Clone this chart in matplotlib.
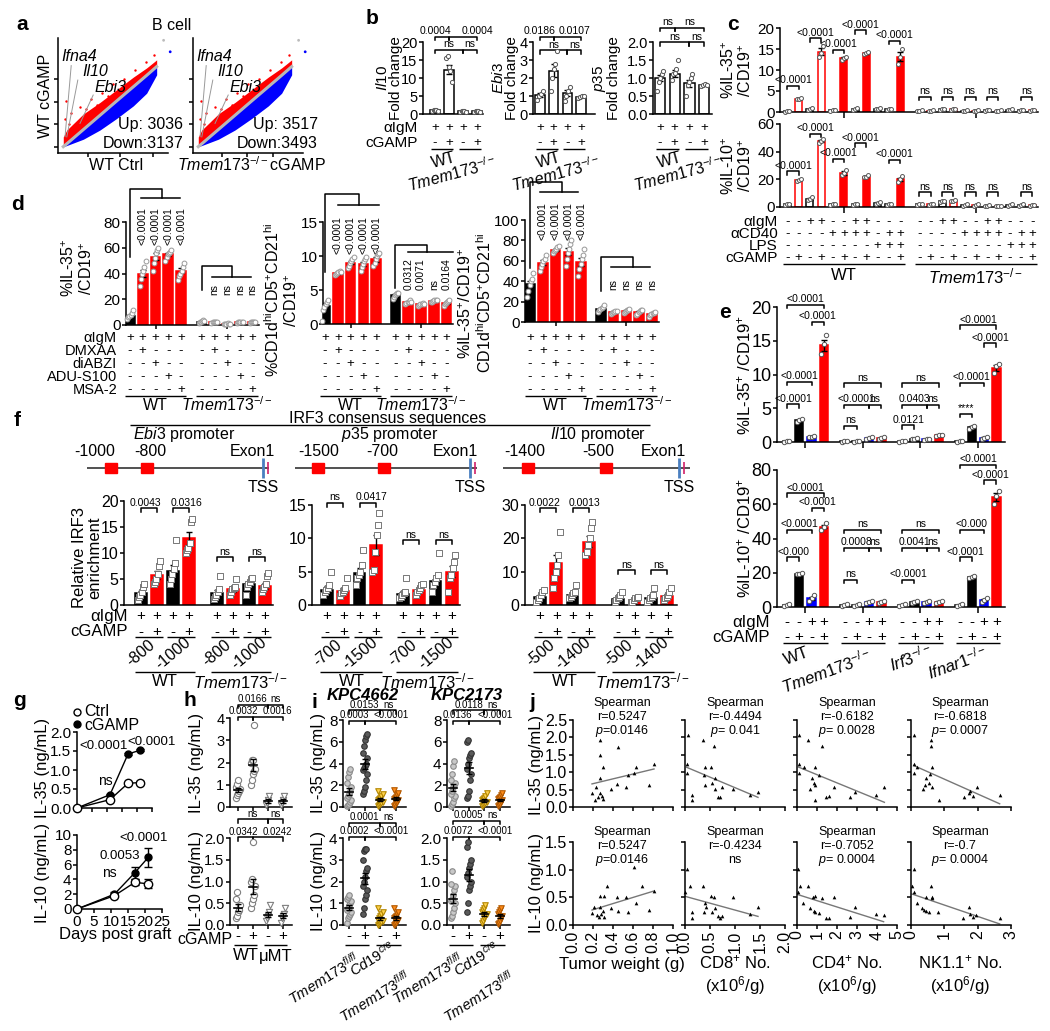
import numpy as np
import matplotlib
matplotlib.use("Agg")
import matplotlib.pyplot as plt

plt.rcParams["font.family"] = ["Liberation Sans", "DejaVu Sans"]
plt.rcParams["mathtext.fontset"] = "custom"
plt.rcParams["mathtext.rm"] = "Liberation Sans"
plt.rcParams["mathtext.it"] = "Liberation Sans:italic"
plt.rcParams["mathtext.bf"] = "Liberation Sans:bold"
plt.rcParams["axes.linewidth"] = 1.1

W, H = 1050, 1031
RED, BLUE = "#ff0000", "#0000ff"
TMEM = r"$\mathit{Tmem173}^{-/-}$"

# ---------------- data ----------------
# a: scatter cloud envelopes (axes fractions)
a_x = [0.048, 0.08, 0.231, 0.382, 0.533, 0.685, 0.806, 0.897]
a_up = [0.14, 0.2, 0.34, 0.44, 0.55, 0.66, 0.74, 0.81]
a_diag = [0.055, 0.08, 0.204, 0.328, 0.452, 0.576, 0.675, 0.751]
a_low = [0.055, 0.065, 0.12, 0.2, 0.3, 0.41, 0.52, 0.68]
a_out_x = [0.06, 0.07, 0.1, 0.12, 0.15, 0.2, 0.25, 0.3, 0.35, 0.4, 0.45, 0.5, 0.6, 0.7, 0.8, 0.87]
a_out_y = [0.3, 0.45, 0.25, 0.35, 0.22, 0.4, 0.38, 0.47, 0.42, 0.52, 0.5, 0.6, 0.64, 0.72, 0.79, 0.85]

# b
b_genes = ["Il10", "Ebi3", "p35"]
b_vals = [[1.0, 12.3, 0.7, 0.7], [1.05, 2.4, 1.15, 0.95], [1.0, 1.12, 0.85, 0.8]]
b_dots = [[[0.8, 1.0, 1.1, 1.2, 0.9], [15.5, 16.0, 13, 12, 9], [0.6, 0.7, 0.8, 0.7, 0.5], [0.6, 0.7, 0.8, 0.7, 0.6]],
          [[0.8, 1.0, 1.1, 1.3], [1.3, 2.0, 2.5, 2.8, 3.5], [0.7, 1.0, 1.3, 1.5], [0.9, 0.95, 1.0, 1.0]],
          [[0.65, 0.9, 1.0, 1.1, 1.2], [0.95, 1.1, 1.15, 1.25, 1.5], [0.5, 0.8, 0.9, 1.0, 1.1], [0.78, 0.8, 0.82, 0.8]]]
b_p = [["0.0004", "0.0004", "ns", "ns"], ["0.0186", "0.0107", "ns", "ns"], ["ns", "ns", "ns", "ns"]]

# c
c_top_wt = [0.2, 3.2, 0.7, 14.3, 0.4, 12.8, 0.7, 14.0, 0.8, 0.6, 13.2]
c_top_wt_dots = [[0.1, 0.2, 0.3], [3.0, 3.2, 3.4], [0.5, 0.7, 0.9], [13, 14, 15.8], [0.3, 0.4, 0.5], [12.5, 12.8, 13.2],
                 [0.5, 0.7, 0.9], [13.8, 14, 14.2], [0.7, 0.8, 0.9], [0.5, 0.6, 0.7], [11.5, 13.2, 15]]
c_top_ko = [0.3, 0.3, 0.6, 0.6, 0.3, 0.3, 0.4, 0.3, 0.5, 0.4, 0.4]
c_top_ko_dots = [[0.2, 0.3, 0.4], [0.2, 0.3, 0.4], [0.5, 0.6, 0.7], [0.5, 0.6, 0.7], [0.2, 0.3, 0.4], [0.2, 0.3, 0.4],
                 [0.3, 0.4, 0.5], [0.2, 0.3, 0.4], [0.4, 0.5, 0.6], [0.3, 0.4, 0.5], [0.3, 0.4, 0.5]]
c_bot_wt = [2, 19.5, 6, 47.5, 2, 24.5, 2, 22, 3, 2, 20]
c_bot_wt_dots = [[1.5, 2, 2.5], [19, 19.5, 20], [5, 6, 7.5], [46, 47.5, 49], [1.5, 2, 2.5], [23, 24.5, 27],
                 [1.5, 2, 2.5], [21.5, 22, 23], [2.5, 3, 3.5], [1.5, 2, 2.5], [18, 20, 22.5]]
c_bot_ko = [2, 2, 4, 4.5, 1.5, 1.5, 1, 0.8, 1.5, 1.5, 1.2]
c_bot_ko_dots = [[1.5, 2, 2.5], [1.5, 2, 2.5], [3.5, 4, 4.5], [4, 4.5, 5], [1, 1.5, 2], [1, 1.5, 2],
                 [0.8, 1, 1.2], [0.6, 0.8, 1], [1, 1.5, 2], [1, 1.5, 2], [1, 1.2, 1.4]]
c_igm = "--++--++---"
c_cd40 = "----++++-++"
c_lps = "--------+++"
c_cg = "-+-+-+-+--+"
c_pairs = [(0, 1), (2, 3), (4, 5), (6, 7), (9, 10)]
c_top_by = [6.2, 17.6, 14.8, 19.5, 17]
c_bot_by = [25.7, 53, 35, 46, 34]

# d
d_vals_wt = [[7, 40, 53, 55, 42], [2.7, 7.5, 9, 8.8, 9.5], [37, 58, 71, 69, 59]]
d_vals_ko = [[2.5, 2, 1, 2, 2], [4.2, 3.2, 2.9, 3.4, 3.1], [13, 9.5, 11, 9.5, 8]]
d_dots_wt = [[[5, 6, 7, 8, 9, 12], [30, 36, 40, 42, 45, 50], [42, 48, 52, 56, 58, 60], [50, 53, 55, 56, 57, 58], [35, 38, 40, 42, 45, 48]],
             [[0.5, 2, 2.5, 3, 3.2, 3.5], [7.2, 7.4, 7.5, 7.6, 7.8, 7.7], [8.3, 8.6, 9, 9.2, 9.5, 9.8], [7.8, 8.4, 8.8, 9.2, 9.5, 9.8], [8.5, 9, 9.5, 10, 10.3, 10.5]],
             [[25, 30, 36, 40, 42, 48], [50, 54, 57, 60, 62, 66], [68, 70, 71, 72, 74, 75], [55, 62, 68, 72, 76, 80], [45, 52, 57, 62, 66, 72]]]
d_dots_ko = [[[1.5, 2, 2.5, 3, 3.5, 3], [1.5, 2, 2, 2.5, 2, 2], [0.5, 1, 1, 1.5, 1, 1], [1.5, 2, 2, 2.5, 2, 2.5], [1.5, 2, 2, 2.5, 2, 2.5]],
             [[3.7, 4, 4.2, 4.4, 4.6, 4.5], [3, 3.1, 3.2, 3.3, 3.5, 3.3], [2.7, 2.8, 2.9, 3, 3.1, 3], [3.2, 3.3, 3.4, 3.5, 3.6, 3.5], [2.6, 2.9, 3.1, 3.3, 3.4, 3.5]],
             [[10, 12, 13, 14, 15, 17], [8, 9, 9.5, 10, 10.5, 11], [9, 10, 11, 12, 12, 13], [7, 8, 9.5, 11, 12, 12], [5, 7, 8, 9, 9, 10]]]
d_p_ko = [["ns"] * 4, ["0.0312", "0.0071", "ns", "0.0164"], ["ns"] * 4]
d_rows = ["\u03b1IgM", "DMXAA", "diABZI", "ADU-S100", "MSA-2"]
d_signs = ["+++++", "-+---", "--+--", "---+-", "----+"]

# e
e_geno = ["WT", TMEM, r"$\mathit{Irf3}^{-/-}$", r"$\mathit{Ifnar1}^{-/-}$"]
e_il35 = [[0.1, 3.2, 0.8, 14.3], [0.1, 0.1, 0.6, 0.6], [0.1, 0.5, 0.4, 1.0], [0.1, 2.2, 0.6, 11.0]]
e_il35_dots = [[[0.05, 0.1, 0.15], [3.0, 3.2, 3.4], [0.7, 0.8, 0.9], [13, 14.5, 15.9]],
               [[0.05, 0.1, 0.15], [0.05, 0.1, 0.15], [0.5, 0.6, 0.7], [0.5, 0.6, 0.7]],
               [[0.05, 0.1, 0.15], [0.4, 0.5, 0.6], [0.3, 0.4, 0.5], [0.9, 1.0, 1.1]],
               [[0.05, 0.1, 0.15], [2.0, 2.2, 2.4], [0.5, 0.6, 0.8], [10.2, 11.2, 11.6]]]
e_il10 = [[1, 19.5, 5, 47], [1, 1, 3, 3], [1, 3, 3, 3], [1, 17.5, 4, 64]]
e_il10_dots = [[[0.5, 1, 1.5], [19, 19.5, 20], [3.5, 5, 7], [45, 47, 49]],
               [[0.5, 1, 1.5], [0.5, 1, 1.5], [2.5, 3, 3.5], [2.5, 3, 3.5]],
               [[0.5, 1, 1.5], [2.5, 3, 3.5], [2.5, 3, 3.5], [2.5, 3, 3.5]],
               [[0.5, 1, 1.5], [17, 17.5, 18], [3, 4, 5.5], [60, 65, 68]]]
e_br35 = [[(0, 3, 20.3, "<0.0001"), (2, 3, 17.8, "<0.0001"), (0, 2, 8.9, "<0.0001"), (0, 1, 5.6, "<0.0001")],
          [(0, 3, 8.7, "ns"), (0, 2, 5.5, "<0.0001"), (2, 3, 5.5, "ns"), (0, 1, 2.4, "ns")],
          [(0, 3, 8.7, "ns"), (0, 2, 5.5, "0.0403"), (2, 3, 5.5, "ns"), (0, 1, 2.5, "0.0121")],
          [(0, 3, 17.3, "<0.0001"), (2, 3, 14.6, "<0.0001"), (0, 2, 8.8, "<0.0001"), (0, 1, 4.2, "****")]]
e_br10 = [[(0, 3, 66.5, "<0.0001"), (2, 3, 58, "<0.0001"), (0, 2, 45, "<0.0001"), (0, 1, 29, "<0.000")],
          [(0, 3, 45, "ns"), (0, 2, 34.5, "0.0008"), (2, 3, 34.5, "ns"), (0, 1, 16, "ns")],
          [(0, 3, 45, "ns"), (0, 2, 34.5, "0.0041"), (2, 3, 34.5, "ns"), (0, 1, 16, "<0.0001")],
          [(0, 3, 83, "<0.0001"), (2, 3, 74, "<0.0001"), (0, 2, 45, "<0.000"), (0, 1, 29, "<0.0001")]]

# f
f_sites = [["-1000", "-800"], ["-1500", "-700"], ["-1400", "-500"]]
f_prom = [r"$\mathit{Ebi3}$ promoter", r"$\mathit{p35}$ promoter", r"$\mathit{Il10}$ promoter"]
f_vals_wt = [[2.3, 5.8, 6.5, 12.8], [2.3, 2.1, 4.8, 9.0], [2.5, 12.5, 3.0, 19.0]]
f_vals_ko = [[2.3, 3.0, 4.0, 3.7], [1.6, 2.3, 3.6, 5.0], [1.8, 1.5, 2.0, 2.8]]
f_dots_wt = [[[1, 1.5, 2, 2.5, 3.5, 4], [4, 4.5, 5, 6, 7.5, 8.5], [4, 5, 6, 7, 8, 12.5], [10, 10.5, 11, 12, 16, 16.5]],
             [[1.5, 2, 2.3, 2.5, 3, 5], [1.3, 1.8, 2, 2.2, 2.5, 4], [3, 4, 4.5, 5, 6, 8.3], [5, 5.2, 8, 10.5, 12, 13.8]],
             [[1, 1.5, 2, 3, 4, 4.5], [5, 8, 10, 12, 15, 22], [2, 2.5, 3, 3.5, 4, 6], [15, 16, 18, 20, 23, 25]]]
f_dots_ko = [[[1.2, 1.5, 2, 2.5, 3, 5.5], [2, 2.5, 3, 3.2, 3.5, 5], [2, 3.5, 4, 4.5, 5, 5.2], [2.5, 3, 3.5, 4, 5.5, 6.2]],
             [[1, 1.2, 1.5, 1.8, 2, 4], [1.5, 2, 2.2, 2.5, 3, 3.2], [2, 3, 3.5, 4, 4.5, 7.8], [2, 4, 4.5, 5.5, 6.5, 7.5]],
             [[1, 1.5, 2, 2.5, 3, 4], [0.8, 1, 1.5, 2, 2, 2.5], [1, 1.5, 2, 2.5, 3, 5], [1.5, 2, 2.5, 3, 4, 5]]]
f_p_wt = [["0.0043", "0.0316"], ["ns", "0.0417"], ["0.0022", "0.0013"]]
f_by_wt = [18.6, 15.3, 29]
f_by_ko = [9.2, 9.7, 10.5]

# g
g_days = [0, 11, 17, 21]
g35_ctrl = [0, 0.22, 0.65, 0.67]
g35_cg = [0, 0.35, 1.42, 1.52]
g35_err = [0, 0.02, 0.03, 0.03]
g10_ctrl = [0, 1.8, 3.6, 3.4]
g10_cg = [0, 2.0, 4.9, 7.0]
g10_ctrl_err = [0, 0.2, 0.4, 0.6]
g10_cg_err = [0, 0.3, 0.8, 1.3]

# h
h35 = [[0.4, 0.55, 0.65, 0.7, 0.8, 0.9, 1.05, 1.2],
       [1.0, 1.2, 1.5, 1.6, 1.7, 2.0, 2.1, 2.1, 3.7],
       [0.1, 0.2, 0.3, 0.5], [0.1, 0.2, 0.3, 0.5]]
h10 = [[0.15, 0.2, 0.3, 0.35, 0.45, 0.6, 0.75],
       [0.4, 0.5, 0.6, 0.7, 0.9, 1.0, 1.05, 1.9],
       [0.1, 0.15, 0.2, 0.3, 0.45], [0.05, 0.15, 0.2, 0.25, 0.4]]

# i
i_titles = ["KPC4662", "KPC2173"]
i35 = [[[0.1, 0.2, 0.3, 0.5, 0.6, 0.8, 1.0, 1.2, 1.5, 1.8, 2.2, 2.8, 3.2, 3.5],
        [1.2, 1.5, 1.8, 2.5, 3.0, 3.4, 3.6, 3.8, 4.0, 4.5, 5.0, 5.6, 6.2, 6.5, 6.7],
        [0.1, 0.2, 0.3, 0.4, 0.5, 0.6, 0.7, 0.8, 1.0, 1.2, 1.5],
        [0.1, 0.2, 0.4, 0.5, 0.6, 0.7, 0.8, 0.9, 1.1, 1.3, 1.6]],
       [[0.1, 0.3, 0.5, 0.8, 1.0, 1.2, 1.5, 1.8, 2.0, 2.2, 2.5, 3.0, 3.8, 4.2],
        [0.8, 1.0, 1.5, 2.5, 3.0, 3.5, 4.0, 4.5, 4.8, 5.0, 6.0, 6.2],
        [0.1, 0.2, 0.3, 0.4, 0.5, 0.6, 0.7, 0.8, 1.0, 1.3],
        [0.1, 0.2, 0.3, 0.5, 0.6, 0.7, 0.8, 0.9, 1.1, 1.3]]]
i10 = [[[0.1, 0.3, 0.4, 0.5, 0.6, 0.7, 0.8, 0.9, 1.0, 1.1, 1.2, 1.3, 1.4],
        [0.5, 0.8, 1.2, 1.4, 1.6, 1.8, 2.0, 2.2, 2.5, 2.6, 3.0, 3.4, 3.5, 3.5],
        [0.0, 0.05, 0.1, 0.15, 0.2, 0.25, 0.3, 0.4, 0.5, 0.6, 0.8],
        [0.0, 0.05, 0.1, 0.2, 0.25, 0.3, 0.35, 0.4, 0.5, 0.6, 0.8]],
       [[0.15, 0.2, 0.3, 0.4, 0.5, 0.55, 0.6, 0.7, 0.8, 0.9, 0.95, 1.25],
        [0.3, 0.5, 0.8, 0.9, 1.0, 1.1, 1.2, 1.3, 1.4, 1.5, 1.8, 1.9],
        [0.05, 0.1, 0.15, 0.2, 0.25, 0.3, 0.35, 0.4, 0.45],
        [0.02, 0.05, 0.1, 0.15, 0.2, 0.25, 0.3, 0.35, 0.4]]]
i_p35 = [["0.0153", "ns", "0.0003", "<0.0001"], ["0.0118", "ns", "0.0136", "<0.0001"]]
i_p10 = [["0.0001", "ns", "0.0002", "<0.0001"], ["0.0005", "ns", "0.0072", "<0.0001"]]

# j
j_xlabels = ["Tumor weight (g)", "CD8$^{+}$ No.\n(x10$^{6}$/g)", "CD4$^{+}$ No.\n(x10$^{6}$/g)", "NK1.1$^{+}$ No.\n(x10$^{6}$/g)"]
j_xmax = [1.0, 2.0, 5.0, 3.0]
j_xticks = [[0, 0.2, 0.4, 0.6, 0.8, 1.0], [0, 0.5, 1.0, 1.5, 2.0], [0, 1, 2, 3, 4, 5], [0, 1, 2, 3]]
j_top_x = [[0.19, 0.23, 0.25, 0.27, 0.29, 0.30, 0.27, 0.30, 0.38, 0.44, 0.53, 0.55, 0.61, 0.63, 0.76, 0.81, 0.27, 0.45, 0.27, 0.22],
           [0.03, 0.03, 0.40, 0.51, 0.38, 0.59, 0.40, 0.53, 0.59, 0.74, 0.66, 0.69, 0.96, 1.29, 1.46, 0.13, 0.14, 0.06, 0.36, 0.57],
           [0.08, 0.08, 0.33, 0.92, 1.08, 0.75, 0.83, 0.92, 0.67, 1.87, 1.47, 1.58, 0.92, 2.67, 2.92, 3.97, 4.37, 0.1, 0.57, 1.23],
           [0.08, 0.18, 0.08, 0.63, 0.56, 0.46, 0.43, 0.53, 0.36, 0.63, 0.83, 1.58, 1.73, 1.78, 1.86, 1.98, 2.66, 0.6, 0.6, 0.1]]
j_top_y = [[0.39, 0.58, 0.30, 0.39, 0.32, 1.16, 0.82, 0.24, 0.52, 0.65, 0.58, 0.91, 0.97, 1.16, 0.62, 1.24, 1.93, 1.72, 1.49, 0.2],
           [1.23, 0.99, 1.14, 1.16, 0.92, 0.82, 0.63, 0.70, 0.51, 0.58, 0.30, 0.28, 0.53, 0.34, 0.42, 0.34, 0.21, 2.07, 1.93, 1.75],
           [1.23, 0.99, 1.14, 1.16, 0.92, 0.82, 0.68, 0.63, 0.51, 0.57, 0.28, 0.32, 0.21, 0.30, 0.42, 0.34, 0.58, 2.07, 1.93, 1.75],
           [1.23, 1.14, 0.99, 1.16, 0.95, 0.82, 0.63, 0.68, 0.51, 0.57, 0.21, 0.28, 0.40, 0.45, 0.32, 0.58, 0.34, 1.93, 1.75, 2.07]]
j_bot_x = [[0.19, 0.21, 0.24, 0.26, 0.28, 0.27, 0.30, 0.27, 0.31, 0.34, 0.31, 0.38, 0.44, 0.45, 0.53, 0.55, 0.61, 0.63, 0.69, 0.76, 0.81],
           [0.03, 0.09, 0.0, 0.13, 0.13, 0.36, 0.40, 0.42, 0.38, 0.51, 0.57, 0.59, 0.53, 0.66, 0.69, 0.74, 0.96, 1.29, 1.46],
           [0.03, 0.13, 0.03, 0.30, 0.53, 0.67, 0.80, 0.92, 0.83, 0.92, 1.08, 1.25, 1.47, 1.58, 1.83, 2.63, 2.88, 3.97, 4.33],
           [0.08, 0.03, 0.08, 0.18, 0.33, 0.38, 0.46, 0.53, 0.60, 0.46, 0.63, 0.63, 0.80, 1.56, 1.73, 1.76, 1.86, 1.96, 2.66]]
j_bot_y = [[0.21, 0.33, 0.18, 0.15, 0.2, 0.33, 0.26, 0.52, 0.52, 0.7, 0.15, 0.3, 0.5, 0.26, 0.5, 0.24, 1.04, 0.4, 0.7, 0.27, 0.61],
           [1.02, 0.70, 0.60, 0.24, 0.12, 0.70, 0.40, 0.33, 0.24, 0.52, 0.51, 0.30, 0.24, 0.16, 0.12, 0.16, 0.50, 0.20, 0.32],
           [1.02, 0.70, 0.60, 0.40, 0.70, 0.30, 0.51, 0.52, 0.26, 0.24, 0.22, 0.48, 0.12, 0.12, 0.50, 0.15, 0.32, 0.20, 0.18],
           [1.02, 0.70, 0.60, 0.40, 0.30, 0.27, 0.26, 0.24, 0.70, 0.51, 0.51, 0.48, 0.24, 0.12, 0.32, 0.20, 0.15, 0.18, 0.12]]
j_top_txt = [("r=0.5247", "$p$=0.0146"), ("r=-0.4494", "$p$= 0.041"), ("r=-0.6182", "$p$= 0.0028"), ("r=-0.6818", "$p$= 0.0007")]
j_bot_txt = [("r=0.5247", "$p$=0.0146"), ("r=-0.4234", "ns"), ("r=-0.7052", "$p$= 0.0004"), ("r=-0.7", "$p$= 0.0004")]

# ---------------- helpers ----------------
fig = plt.figure(figsize=(W / 100, H / 100), dpi=100)
ov = fig.add_axes([0, 0, 1, 1])
ov.set_xlim(0, W)
ov.set_ylim(H, 0)
ov.axis("off")
ov.set_zorder(10)


def new_ax(x0, y0, x1, y1, xlim, ylim, fs=11):
    ax = fig.add_axes([x0 / W, 1 - y1 / H, (x1 - x0) / W, (y1 - y0) / H])
    ax.set_xlim(xlim)
    ax.set_ylim(ylim)
    ax.spines["top"].set_visible(False)
    ax.spines["right"].set_visible(False)
    ax.patch.set_visible(False)
    ax.tick_params(labelsize=fs, length=3, width=1.1, pad=1)
    ax.set_xticks([])
    return ax


def T(x, y, s, fs=9, **kw):
    kw.setdefault("ha", "center")
    kw.setdefault("va", "center")
    ov.text(x, y, s, fontsize=fs, **kw)


def L(xs, ys, lw=1.0, color="k"):
    ov.plot(xs, ys, color=color, lw=lw, solid_capstyle="butt")


def px(ax, x):
    return ax.transData.transform((x, 0))[0]


def dpx(ax, p):
    y0, y1 = ax.get_ylim()
    return p * (y1 - y0) / (ax.get_position().height * H)


def bracket(ax, xa, xb, y, label, fs=7.5, drop=3.5, dx=0):
    h = dpx(ax, drop)
    ax.plot([xa, xa, xb, xb], [y - h, y, y, y - h], color="k", lw=1.1, clip_on=False)
    ax.text((xa + xb) / 2 + dx, y + dpx(ax, 0.5), label, ha="center", va="bottom", fontsize=fs, clip_on=False)


def draw_bars(ax, xs, vals, dots, faces, edges, width=0.65, ms=10, mk="o", dec="#555"):
    for x, v, d, fc, ec in zip(xs, vals, dots, faces, edges):
        ax.bar(x, v, width, color=fc, edgecolor=ec, linewidth=1.1, zorder=2)
        d = np.asarray(d, float)
        sem = d.std(ddof=1) / np.sqrt(len(d))
        ax.errorbar(x, v, yerr=sem, fmt="none", ecolor="k", elinewidth=1, capsize=2, capthick=1, zorder=3)
        off = np.linspace(-width * 0.3, width * 0.3, len(d))
        ax.scatter(x + off, d, s=ms, marker=mk, facecolor="white", edgecolor=dec, linewidth=0.7, zorder=4, clip_on=False)


def row(ax, xs, signs, y, fs=9.5):
    for x, s in zip(xs, signs):
        T(px(ax, x), y, s, fs)


def uline(ax, xa, xb, y):
    L([px(ax, xa), px(ax, xb)], [y, y])


def dot_groups(ax, groups, faces, edges, markers, ms=18):
    for k, g in enumerate(groups):
        g = np.asarray(g, float)
        off = ((np.arange(len(g)) % 5) - 2) * 0.07
        ax.scatter(k + off, g, s=ms, marker=markers[k], facecolor=faces[k], edgecolor=edges[k], linewidth=0.8,
                   zorder=3, clip_on=False)
        m = g.mean()
        sem = g.std(ddof=1) / np.sqrt(len(g))
        ax.plot([k - 0.25, k + 0.25], [m, m], color="k", lw=1.2, zorder=4)
        ax.errorbar(k, m, yerr=sem, fmt="none", ecolor="k", elinewidth=1, capsize=2, zorder=4)


# ---------------- a ----------------
T(22, 25, "a", 15, fontweight="bold")
T(172, 26, "B cell", 11.5)
a_genes = ["Ifna4", "Il10", "Ebi3"]
a_lab = [(0.19, 0.835), (0.34, 0.71), (0.48, 0.57)]
a_lines = [(0.12, 0.76, 0.064, 0.142), (0.18, 0.634, 0.08, 0.14), (0.32, 0.504, 0.2, 0.257)]
for k, (x0, xlab, up, down) in enumerate([(58, "WT Ctrl", "Up: 3036", "Down:3137"),
                                          (193, TMEM + "cGAMP", "Up: 3517", "Down:3493")]):
    ax = new_ax(x0, 38, x0 + 110, 153, (0, 1), (0, 1))
    ax.set_xticks([0.27, 0.56, 0.86] if k == 0 else [0.26, 0.49, 0.73])
    ax.set_yticks([0.05, 0.25, 0.44, 0.64])
    ax.set_xticklabels([])
    ax.set_yticklabels([])
    ax.fill_between(a_x, a_diag, a_up, color=RED, lw=0, zorder=2)
    ax.fill_between(a_x, a_low, a_diag, color=BLUE, lw=0, zorder=2)
    ax.plot(a_x, a_diag, color="#b8b8b8", lw=2.2, zorder=3)
    ax.scatter(a_out_x, a_out_y, s=3, color=RED, lw=0, zorder=2)
    ax.scatter([0.96, 1.02], [0.98, 0.88], s=4, color=["#bbbbbb", BLUE], lw=0, clip_on=False)
    for g, (lx, ly), (xa, ya, xb, yb) in zip(a_genes, a_lab, a_lines):
        ax.plot([xa, xb], [ya, yb], color="#999999", lw=0.7, zorder=4)
        ax.text(lx, ly, g, fontsize=11.5, style="italic", ha="center", va="center", zorder=5)
    T(x0 + 125, 124, up, 11.5, ha="right")
    T(x0 + 125, 143, down, 11.5, ha="right")
    T(x0 + 58, 165, xlab, 11.5)
T(45, 96, "WT cGAMP", 11.5, rotation=90)

# ---------------- b ----------------
T(372, 18, "b", 15, fontweight="bold")
b_boxes = [(423, 42, 483, 114), (533, 42, 595, 114), (653, 42, 712, 114)]
b_xlims = [(-0.86, 3.43), (-0.5, 4.0), (-0.48, 3.54)]
b_ymax = [20, 4, 2.0]
b_yticks = [[0, 5, 10, 15, 20], [0, 1, 2, 3, 4], [0, 0.5, 1.0, 1.5, 2.0]]
b_ylab_x = [389, 505, 606]
b_upper = [21.4, 4.28, 2.39]
b_lower = [17.8, 3.55, 2.0]
b_dx = [(-0.5, 1.0), (-0.5, 0.5), (0, 0)]
for k in range(3):
    x0, y0, x1, y1 = b_boxes[k]
    ax = new_ax(x0, y0, x1, y1, b_xlims[k], (0, b_ymax[k]), fs=10.5)
    ax.set_yticks(b_yticks[k])
    if k == 2:
        ax.set_yticklabels(["0.0", "0.5", "1.0", "1.5", "2.0"])
    draw_bars(ax, range(4), b_vals[k], b_dots[k], ["white"] * 4, ["k"] * 4, width=0.7, ms=9)
    p = b_p[k]
    bracket(ax, 0, 1, b_upper[k], p[0], dx=b_dx[k][0])
    bracket(ax, 1, 3, b_upper[k], p[1], dx=b_dx[k][1])
    bracket(ax, 0, 2, b_lower[k], p[2])
    bracket(ax, 2, 3, b_lower[k], p[3])
    T(b_ylab_x[k], 78, "$\\mathit{" + b_genes[k] + "}$\nFold change", 11, rotation=90, linespacing=0.95)
    row(ax, range(4), "++++", 128)
    row(ax, range(4), "-+-+", 143)
    uline(ax, -0.3, 1.3, 149)
    uline(ax, 1.7, 3.3, 149)
    cx = px(ax, 1.5)
    T(cx - 12, 160, "WT", 11.5, rotation=15)
    T(cx - 4, 174, TMEM, 11.5, rotation=15)
    if k == 0:
        T(418, 128, "\u03b1IgM", 11, ha="right")
        T(418, 143, "cGAMP", 11, ha="right")

# ---------------- c ----------------
T(733, 25, "c", 15, fontweight="bold")
c_face = ["white", "white", "white", "white", "white", RED, "white", RED, "white", "white", RED]
c_edge = ["k", RED, "k", RED, "k", RED, "k", RED, "k", "k", RED]
c_xw = np.arange(11)
c_xk = np.arange(11) + 11.7
for k, (y0, y1, ymax, ticks, vw, dw, vk, dk, byw, byk, ylab) in enumerate([
        (28, 112, 20, [0, 5, 10, 15, 20], c_top_wt, c_top_wt_dots, c_top_ko, c_top_ko_dots, c_top_by, 3.6,
         "%IL-35$^{+}$\n/CD19$^{+}$"),
        (124, 207, 60, [0, 20, 40, 60], c_bot_wt, c_bot_wt_dots, c_bot_ko, c_bot_ko_dots, c_bot_by, 10.7,
         "%IL-10$^{+}$\n/CD19$^{+}$")]):
    ax = new_ax(780, y0, 1038, y1, (-0.65, 22.2), (0, ymax), fs=11)
    ax.set_yticks(ticks)
    ax.set_xticks([5, 16.7])
    ax.set_xticklabels([])
    ax.tick_params(axis="x", length=4)
    draw_bars(ax, c_xw, vw, dw, c_face, c_edge, width=0.62, ms=8)
    draw_bars(ax, c_xk, vk, dk, c_face, c_edge, width=0.62, ms=8)
    for (a, b), y in zip(c_pairs, byw):
        bracket(ax, a, b, y, "<0.0001")
    for a, b in c_pairs:
        bracket(ax, a + 11.7, b + 11.7, byk, "ns")
    T(737, (y0 + y1) / 2, ylab, 11.5, rotation=90, linespacing=1.0)
    if k == 1:
        for lab, sg, y in zip(["\u03b1IgM", "\u03b1CD40", "LPS", "cGAMP"], [c_igm, c_cd40, c_lps, c_cg],
                              [222, 234, 246, 258]):
            T(778, y, lab, 11, ha="right")
            row(ax, c_xw, sg, y)
            row(ax, c_xk, sg, y)
        uline(ax, -0.4, 10.4, 264)
        uline(ax, 11.3, 22.1, 264)
        T(px(ax, 5), 276, "WT", 12)
        T(px(ax, 16.7), 276, TMEM, 12)

# ---------------- d ----------------
T(17, 205, "d", 15, fontweight="bold")
d_boxes = [(126, 222, 259, 325), (323, 222, 453, 324), (525, 220, 659, 322)]
d_xlims = [(-0.31, 10.1), (-0.16, 10.0), (-0.4, 10.1)]
d_ymax = [80, 15, 100]
d_yticks = [[0, 20, 40, 60, 80], [0, 5, 10, 15], [0, 20, 40, 60, 80, 100]]
d_ko0 = [5.6, 5.5, 5.55]
d_tree_wt = [(53, 106, 2.5, 99, 0.86, 3.9, 62), (7.6, 19.1, 2.65, 17.5, 1.0, 4.2, 10.3), (53, 137, 2.5, 127, 0.8, 3.75, 80)]
d_tree_ko = [(27, 46, 8.0, 37, 6.4, 9.45, 23), (5.3, 11.6, 8.0, 10.6, 6.5, 10.0, 5.0), (30, 64, 8.05, 54, 6.3, 9.4, 31)]
d_ylabs = ["%IL-35$^{+}$\n/CD19$^{+}$",
           "%CD1d$^{\\mathrm{hi}}$CD5$^{+}$CD21$^{\\mathrm{hi}}$\n/CD19$^{+}$",
           "%IL-35$^{+}$/CD19$^{+}$\nCD1d$^{\\mathrm{hi}}$CD5$^{+}$CD21$^{\\mathrm{hi}}$"]
d_ylab_pos = [(78, 268), (282, 300), (476, 303)]
for k in range(3):
    x0, y0, x1, y1 = d_boxes[k]
    ax = new_ax(x0, y0, x1, y1, d_xlims[k], (0, d_ymax[k]), fs=11)
    ax.set_yticks(d_yticks[k])
    xw = np.arange(5)
    xk = np.arange(5) + d_ko0[k]
    ax.set_xticks([2, d_ko0[k] + 2])
    ax.set_xticklabels([])
    fc = ["k", RED, RED, RED, RED]
    draw_bars(ax, xw, d_vals_wt[k], d_dots_wt[k], fc, fc, width=0.75, ms=12, dec="#999")
    draw_bars(ax, xk, d_vals_ko[k], d_dots_ko[k], fc, fc, width=0.75, ms=12, dec="#999")
    for xs0, tr, labs in [(0, d_tree_wt[k], ["<0.0001"] * 4), (d_ko0[k], d_tree_ko[k], d_p_ko[k])]:
        yc, yt, xm, ym, xa, xb, pb = tr
        ax.plot([xs0, xs0, xm, xm], [yc, yt, yt, ym], color="k", lw=1.1, clip_on=False)
        ax.plot([xa, xb], [ym, ym], color="k", lw=1.1, clip_on=False)
        for j, lab in enumerate(labs):
            ax.text(xs0 + 1 + j, pb, lab, rotation=90, ha="center", va="bottom", fontsize=7.5, clip_on=False)
    T(d_ylab_pos[k][0], d_ylab_pos[k][1], d_ylabs[k], 11.5, rotation=90, linespacing=1.1)
    for j, (lab, sg) in enumerate(zip(d_rows, d_signs)):
        y = 338 + j * 13
        row(ax, xw, sg, y)
        row(ax, xk, sg, y)
        if k == 0:
            T(117, y, lab, 10.5, ha="right")
    uline(ax, -0.4, 4.4, 396)
    uline(ax, d_ko0[k] - 0.4, d_ko0[k] + 4.4, 396)
    T(px(ax, 2), 405, "WT", 11.5)
    T(px(ax, d_ko0[k] + 2), 405, TMEM, 11.5)

# ---------------- e ----------------
T(725, 313, "e", 15, fontweight="bold")
e_face = ["white", "k", BLUE, RED]
e_edge = ["k", "k", BLUE, RED]
e_step = 4.67
for k, (y0, y1, ymax, ticks, vals, dots, brs, ylab, yc) in enumerate([
        (307, 442, 20, [0, 5, 10, 15, 20], e_il35, e_il35_dots, e_br35, "%IL-35$^{+}$ /CD19$^{+}$", 375),
        (470, 607, 80, [0, 20, 40, 60, 80], e_il10, e_il10_dots, e_br10, "%IL-10$^{+}$ /CD19$^{+}$", 538)]):
    ax = new_ax(777, y0, 1005, y1, (-0.8, 17.7), (0, ymax), fs=13)
    ax.set_yticks(ticks)
    ax.set_xticks([1.5 + g * e_step for g in range(4)])
    ax.set_xticklabels([])
    ax.tick_params(axis="x", length=4)
    for g in range(4):
        xs = g * e_step + np.arange(4)
        draw_bars(ax, xs, vals[g], dots[g], e_face, e_edge, width=0.7, ms=10)
        for a, b, y, lab in brs[g]:
            bracket(ax, g * e_step + a, g * e_step + b, y, lab, fs=7.5)
        if k == 1:
            row(ax, xs, "--++", 622, fs=11)
            row(ax, xs, "-+-+", 637, fs=11)
            uline(ax, xs[0] - 0.3, xs[3] + 0.3, 643)
    T(744, yc, ylab, 12, rotation=90)
T(770, 622, "\u03b1IgM", 12, ha="right")
T(770, 637, "cGAMP", 12, ha="right")
for lab, (x, y) in zip(e_geno, [(797, 656), (826, 671), (911, 657), (957, 662)]):
    T(x, y, lab, 12, rotation=20)

# ---------------- f ----------------
T(17, 420, "f", 15, fontweight="bold")
T(388, 418, "IRF3 consensus sequences", 11.5)
L([130, 650], [425, 425])
f_diag = [(87, 269, [111, 147], 263, 184, [95, 150], 252),
          (295, 477, [318, 384], 470, 390, [319, 382], 455),
          (503, 690, [528, 606], 679, 598, [525, 598], 663)]
for (la, lb, boxes, ex, pc, labx, exl), prom, sites in zip(f_diag, f_prom, f_sites):
    T(pc, 435, prom, 11.5)
    L([la, lb], [468, 468], lw=1.2, color="#333333")
    for bx, s, lx in zip(boxes, sites, labx):
        ov.add_patch(plt.Rectangle((bx - 6, 463), 12, 10, color=RED, zorder=3))
        T(lx, 452, s, 11.5)
    L([ex, ex], [458, 478], lw=2, color="#4a7fc0")
    L([ex + 5, ex + 5], [462, 474], lw=1.2, color="#d0206a")
    T(exl, 452, "Exon1", 11.5)
    T(ex, 487, "TSS", 11.5)
f_boxes = [(124, 501, 273, 605), (312, 505, 460, 605), (525, 505, 677, 605)]
f_xlims = [(-1.06, 8.25), (-0.92, 8.16), (-0.92, 8.4)]
f_ko0 = [4.75, 4.66, 4.8]
f_ymax = [20, 15, 30]
f_yticks = [[0, 5, 10, 15, 20], [0, 5, 10, 15], [0, 10, 20, 30]]
f_dx = [(-0.25, 0.35), (0, 0.2), (-0.2, 0.2)]
for k in range(3):
    x0, y0, x1, y1 = f_boxes[k]
    ax = new_ax(x0, y0, x1, y1, f_xlims[k], (0, f_ymax[k]), fs=11.5)
    ax.set_yticks(f_yticks[k])
    fc = ["k", RED, "k", RED]
    for xs0, vals, dots, grp in [(0, f_vals_wt[k], f_dots_wt[k], "WT"), (f_ko0[k], f_vals_ko[k], f_dots_ko[k], TMEM)]:
        xs = xs0 + np.arange(4)
        draw_bars(ax, xs, vals, dots, fc, fc, width=0.72, ms=14, mk="s", dec="#777")
        row(ax, xs, "++++", 616, fs=11)
        row(ax, xs, "-+-+", 632, fs=11)
        for j in range(2):
            uline(ax, xs[2 * j] - 0.35, xs[2 * j + 1] + 0.35, 637)
            T(px(ax, xs[2 * j] + 0.5) - 8, 653, f_sites[k][1 - j], 11.5, rotation=40)
        uline(ax, xs[0] - 0.4, xs[3] + 0.4, 672)
        T(px(ax, xs0 + 1.5), 681, grp, 12)
    bracket(ax, 0, 1, f_by_wt[k], f_p_wt[k][0], dx=f_dx[k][0])
    bracket(ax, 2, 3, f_by_wt[k], f_p_wt[k][1], dx=f_dx[k][1])
    bracket(ax, f_ko0[k], f_ko0[k] + 1, f_by_ko[k], "ns")
    bracket(ax, f_ko0[k] + 2, f_ko0[k] + 3, f_by_ko[k], "ns")
T(128, 616, "\u03b1IgM", 12, ha="right")
T(128, 632, "cGAMP", 12, ha="right")
T(87, 558, "Relative IRF3\nenrichment", 12, rotation=90, linespacing=1.0)

# ---------------- g ----------------
T(20, 700, "g", 15, fontweight="bold")
ov.plot([77], [712], marker="o", ms=5, mfc="white", mec="k", mew=1)
ov.plot([77], [724], marker="o", ms=5, mfc="k", mec="k")
T(84, 712, "Ctrl", 11.5, ha="left")
T(84, 725, "cGAMP", 11.5, ha="left")
g1 = new_ax(77, 732, 152, 808, (0, 25), (0, 2))
g1.set_yticks([0, 0.5, 1.0, 1.5, 2.0])
g1.set_yticklabels(["0.0", "0.5", "1.0", "1.5", "2.0"])
g1.set_xticks([0, 5, 10, 15, 20, 25])
g1.set_xticklabels([])
g2 = new_ax(77, 835, 162, 909, (0, 25), (0, 10))
g2.set_yticks([0, 2, 4, 6, 8, 10])
g2.set_xticks([0, 5, 10, 15, 20, 25])
for ax, c, cg, ec, eg in [(g1, g35_ctrl, g35_cg, g35_err, g35_err), (g2, g10_ctrl, g10_cg, g10_ctrl_err, g10_cg_err)]:
    ax.errorbar(g_days, c, yerr=ec, color="k", lw=1, capsize=3, marker="o", ms=6, mfc="white", mec="k",
                zorder=4, clip_on=False)
    ax.errorbar(g_days, cg, yerr=eg, color="k", lw=1, capsize=3, marker="o", ms=5, mfc="k", zorder=3, clip_on=False)
g1.text(9.3, 0.6, "ns", fontsize=10, ha="center")
g1.text(8.7, 1.55, "<0.0001", fontsize=9.5, ha="center")
g1.text(25, 1.65, "<0.0001", fontsize=9.5, ha="center")
g2.text(9.5, 4.3, "ns", fontsize=10, ha="center")
g2.text(12.5, 6.8, "0.0053", fontsize=9.5, ha="center")
g2.text(19.5, 9.2, "<0.0001", fontsize=9.5, ha="center")
T(43, 768, "IL-35 (ng/mL)", 12, rotation=90)
T(43, 873, "IL-10 (ng/mL)", 12, rotation=90)
T(115, 934, "Days post graft", 12)

# ---------------- h ----------------
T(190, 700, "h", 15, fontweight="bold")
h_fc = ["white"] * 4
h_ec = ["#7f7f7f"] * 4
h_mk = ["o", "o", "v", "v"]
h1 = new_ax(230, 718, 292, 807, (-0.53, 3.6), (0, 4), fs=10.5)
h1.set_yticks([0, 1, 2, 3, 4])
h2 = new_ax(230, 838, 292, 925, (-0.53, 3.6), (0, 2), fs=10.5)
h2.set_yticks([0, 0.5, 1.0, 1.5, 2.0])
h2.set_yticklabels(["0.0", "0.5", "1.0", "1.5", "2.0"])
for ax, data in [(h1, h35), (h2, h10)]:
    ax.set_xticks(range(4))
    ax.set_xticklabels([])
    dot_groups(ax, data, h_fc, h_ec, h_mk, ms=20)
bracket(h1, 0, 2, 4.6, "0.0166", fs=7)
bracket(h1, 2, 3, 4.6, "ns", fs=7)
bracket(h1, 0, 1, 4.05, "0.0032", fs=7, dx=-0.15)
bracket(h1, 1, 3, 4.05, "0.0016", fs=7, dx=0.6)
bracket(h2, 0, 2, 2.43, "ns", fs=7)
bracket(h2, 2, 3, 2.43, "ns", fs=7)
bracket(h2, 0, 1, 2.02, "0.0342", fs=7, dx=-0.15)
bracket(h2, 1, 3, 2.02, "0.0242", fs=7, dx=0.6)
row(h2, range(4), "-+-+", 936, fs=11)
T(233, 940, "cGAMP", 11.5, ha="right")
uline(h2, -0.25, 1.25, 945)
uline(h2, 1.75, 3.25, 945)
T(px(h2, 0.5), 956, "WT", 12)
T(px(h2, 2.5), 956, "\u03bcMT", 12)
T(197, 763, "IL-35 (ng/mL)", 12, rotation=90)
T(197, 881, "IL-10 (ng/mL)", 12, rotation=90)

# ---------------- i ----------------
T(314, 702, "i", 15, fontweight="bold")
i_fc = ["#c8c8c8", "#5a5a5a", "#ffd34d", "#ff8c1a"]
i_ec = ["#8a8a8a", "#333333", "#b38600", "#b35900"]
i_mk = ["o", "o", "v", "v"]
for k, x0 in enumerate([343, 447]):
    top = new_ax(x0, 720, x0 + 63, 807, (-0.4, 3.65), (0, 8))
    top.set_yticks([0, 2, 4, 6, 8])
    bot = new_ax(x0, 838, x0 + 63, 925, (-0.4, 3.65), (0, 4 if k == 0 else 2))
    if k == 0:
        bot.set_yticks([0, 1, 2, 3, 4])
    else:
        bot.set_yticks([0, 0.5, 1.0, 1.5, 2.0])
        bot.set_yticklabels(["0.0", "0.5", "1.0", "1.5", "2.0"])
    for ax in (top, bot):
        ax.set_xticks(range(4))
        ax.set_xticklabels([])
    dot_groups(top, i35[k], i_fc, i_ec, i_mk, ms=16)
    dot_groups(bot, i10[k], i_fc, i_ec, i_mk, ms=16)
    p = i_p35[k]
    bracket(top, 0, 2, 8.9, p[0], fs=7)
    bracket(top, 2, 3, 8.9, p[1], fs=7)
    bracket(top, 0, 1, 7.95, p[2], fs=7, dx=-0.2)
    bracket(top, 1, 3, 7.95, p[3], fs=7, dx=0.7)
    p = i_p10[k]
    by = [4.7, 4.05] if k == 0 else [2.4, 2.03]
    bracket(bot, 0, 2, by[0], p[0], fs=7)
    bracket(bot, 2, 3, by[0], p[1], fs=7)
    bracket(bot, 0, 1, by[1], p[2], fs=7, dx=-0.2)
    bracket(bot, 1, 3, by[1], p[3], fs=7, dx=0.7)
    T(x0 + 20, 696, i_titles[k], 12, style="italic", fontweight="bold")
    row(bot, range(4), "-+-+", 936, fs=11)
    uline(bot, -0.3, 1.3, 945)
    uline(bot, 1.7, 3.3, 945)
    T(x0 - 19, 978, r"$\mathit{Tmem173}^{fl/fl}$", 10.5, rotation=32)
    T(x0 + 30, 960, r"$\mathit{Cd19}^{cre}$", 10.5, rotation=32)
    T(x0 + 32, 996, r"$\mathit{Tmem173}^{fl/fl}$", 10.5, rotation=32)
T(318, 763, "IL-35 (ng/mL)", 12, rotation=90)
T(318, 881, "IL-10 (ng/mL)", 12, rotation=90)

# ---------------- j ----------------
T(532, 703, "j", 15, fontweight="bold")
j_x0 = [573, 685, 797, 911]
j_cx = [622, 735, 847, 960]
for k in range(4):
    top = new_ax(j_x0[k], 720, j_x0[k] + 100, 807, (0, j_xmax[k]), (0, 2.5), fs=11.5)
    bot = new_ax(j_x0[k], 842, j_x0[k] + 100, 925, (0, j_xmax[k]), (0, 1.5), fs=11.5)
    top.set_yticks([0, 0.5, 1.0, 1.5, 2.0, 2.5])
    bot.set_yticks([0, 0.5, 1.0, 1.5])
    for ax, xs, ys in [(top, j_top_x[k], j_top_y[k]), (bot, j_bot_x[k], j_bot_y[k])]:
        ax.set_xticks(j_xticks[k])
        ax.set_xticklabels([])
        if k == 0:
            ax.set_yticklabels(["%.1f" % v for v in ax.get_yticks()])
        else:
            ax.set_yticklabels([])
        ax.scatter(xs, ys, s=7, marker="^", color="k", lw=0, zorder=3, clip_on=False)
        xs = np.asarray(xs)
        ys = np.asarray(ys)
        sl, ic = np.polyfit(xs, ys, 1)
        xx = np.array([xs.min(), xs.max()])
        ax.plot(xx, sl * xx + ic, color="#777777", lw=1, zorder=2)
    if k < 2:
        bot.set_xticklabels(["%.1f" % v for v in j_xticks[k]], rotation=90)
    else:
        bot.set_xticklabels([str(v) for v in j_xticks[k]], rotation=90)
    for yb, (r, pv) in [(703, j_top_txt[k]), (832, j_bot_txt[k])]:
        T(j_cx[k], yb, "Spearman", 9)
        T(j_cx[k], yb + 14, r, 9)
        T(j_cx[k], yb + 28, pv, 9)
    if k == 0:
        T(j_cx[k], 965, j_xlabels[k], 12)
    else:
        T(j_cx[k], 975, j_xlabels[k], 12, linespacing=1.2)
T(537, 765, "IL-35 (ng/mL)", 12, rotation=90)
T(537, 883, "IL-10 (ng/mL)", 12, rotation=90)

fig.savefig("out.png", dpi=100)
